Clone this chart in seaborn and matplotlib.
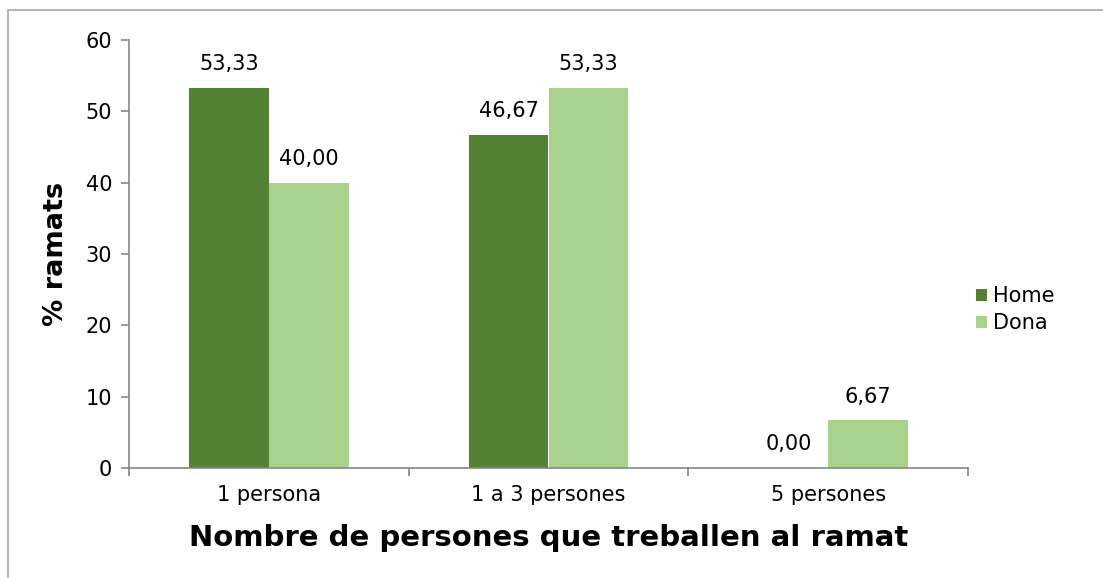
import pandas as pd
import matplotlib
matplotlib.use("Agg")
import matplotlib.pyplot as plt
import seaborn as sns
from matplotlib.patches import Rectangle

sns.set_theme(style="white")
plt.rcParams['font.family'] = ['DejaVu Sans']
plt.rcParams['text.color'] = 'black'
plt.rcParams['axes.labelcolor'] = 'black'
plt.rcParams['xtick.color'] = 'black'
plt.rcParams['ytick.color'] = 'black'

# Dades
categories = ["1 persona", "1 a 3 persones", "5 persones"]
home = [53.33, 46.67, 0.00]
dona = [40.00, 53.33, 6.67]
series = ["Home", "Dona"]
palette = {"Home": "#548235", "Dona": "#A9D18E"}

df = pd.DataFrame({
    "categoria": categories * 2,
    "valor": home + dona,
    "sexe": ["Home"] * len(categories) + ["Dona"] * len(categories),
})

fig = plt.figure(figsize=(11.03, 5.78), dpi=100)
ax = fig.add_axes([129 / 1103, 1 - 468 / 578, (968 - 129) / 1103, (468 - 40) / 578])

sns.barplot(data=df, x="categoria", y="valor", hue="sexe", hue_order=series,
            palette=palette, width=0.57, gap=0, saturation=1, ax=ax,
            errorbar=None, legend=True, linewidth=0)

for cont in ax.containers:
    ax.bar_label(cont, labels=[f"{v:.2f}".replace(".", ",") for v in cont.datavalues],
                 padding=10, fontsize=15, color="black")

ax.set_ylim(0, 60)
ax.set_yticks(range(0, 61, 10))
ax.set_xlim(-0.5, 2.5)
ax.set_xticks(range(len(categories)))
ax.set_xticklabels(categories)
ax.set_xticks([-0.5, 0.5, 1.5, 2.5], minor=True)
ax.tick_params(axis="x", which="major", bottom=True, length=0, pad=12, labelsize=15)
ax.tick_params(axis="x", which="minor", bottom=True, length=6, width=1.2,
               color="#868686", direction="out")
ax.tick_params(axis="y", left=True, length=6, width=1.2, color="#868686",
               direction="out", pad=6, labelsize=15, labelcolor="black")
for s in ["top", "right"]:
    ax.spines[s].set_visible(False)
for s in ["left", "bottom"]:
    ax.spines[s].set_color("#868686")
    ax.spines[s].set_linewidth(1.2)

ax.set_xlabel("Nombre de persones que treballen al ramat", fontsize=21,
              fontweight="bold", labelpad=14, color="black")
ax.set_ylabel("% ramats", fontsize=19.5, fontweight="bold", labelpad=12, color="black")

leg = ax.legend(title=None, loc="center left", bbox_to_anchor=(0.995, 0.37), frameon=False,
                fontsize=15, handlelength=0.5, handleheight=0.5, handletextpad=0.3,
                labelspacing=0.35, borderaxespad=0.2)
for t in leg.get_texts():
    t.set_color("black")

fig.patches.append(Rectangle((8 / 1103, -0.01), 1.1, 1 - 10 / 578 + 0.01,
                             transform=fig.transFigure, fill=False,
                             edgecolor="#A6A6A6", linewidth=1.2))

fig.savefig("out.png", dpi=100)
